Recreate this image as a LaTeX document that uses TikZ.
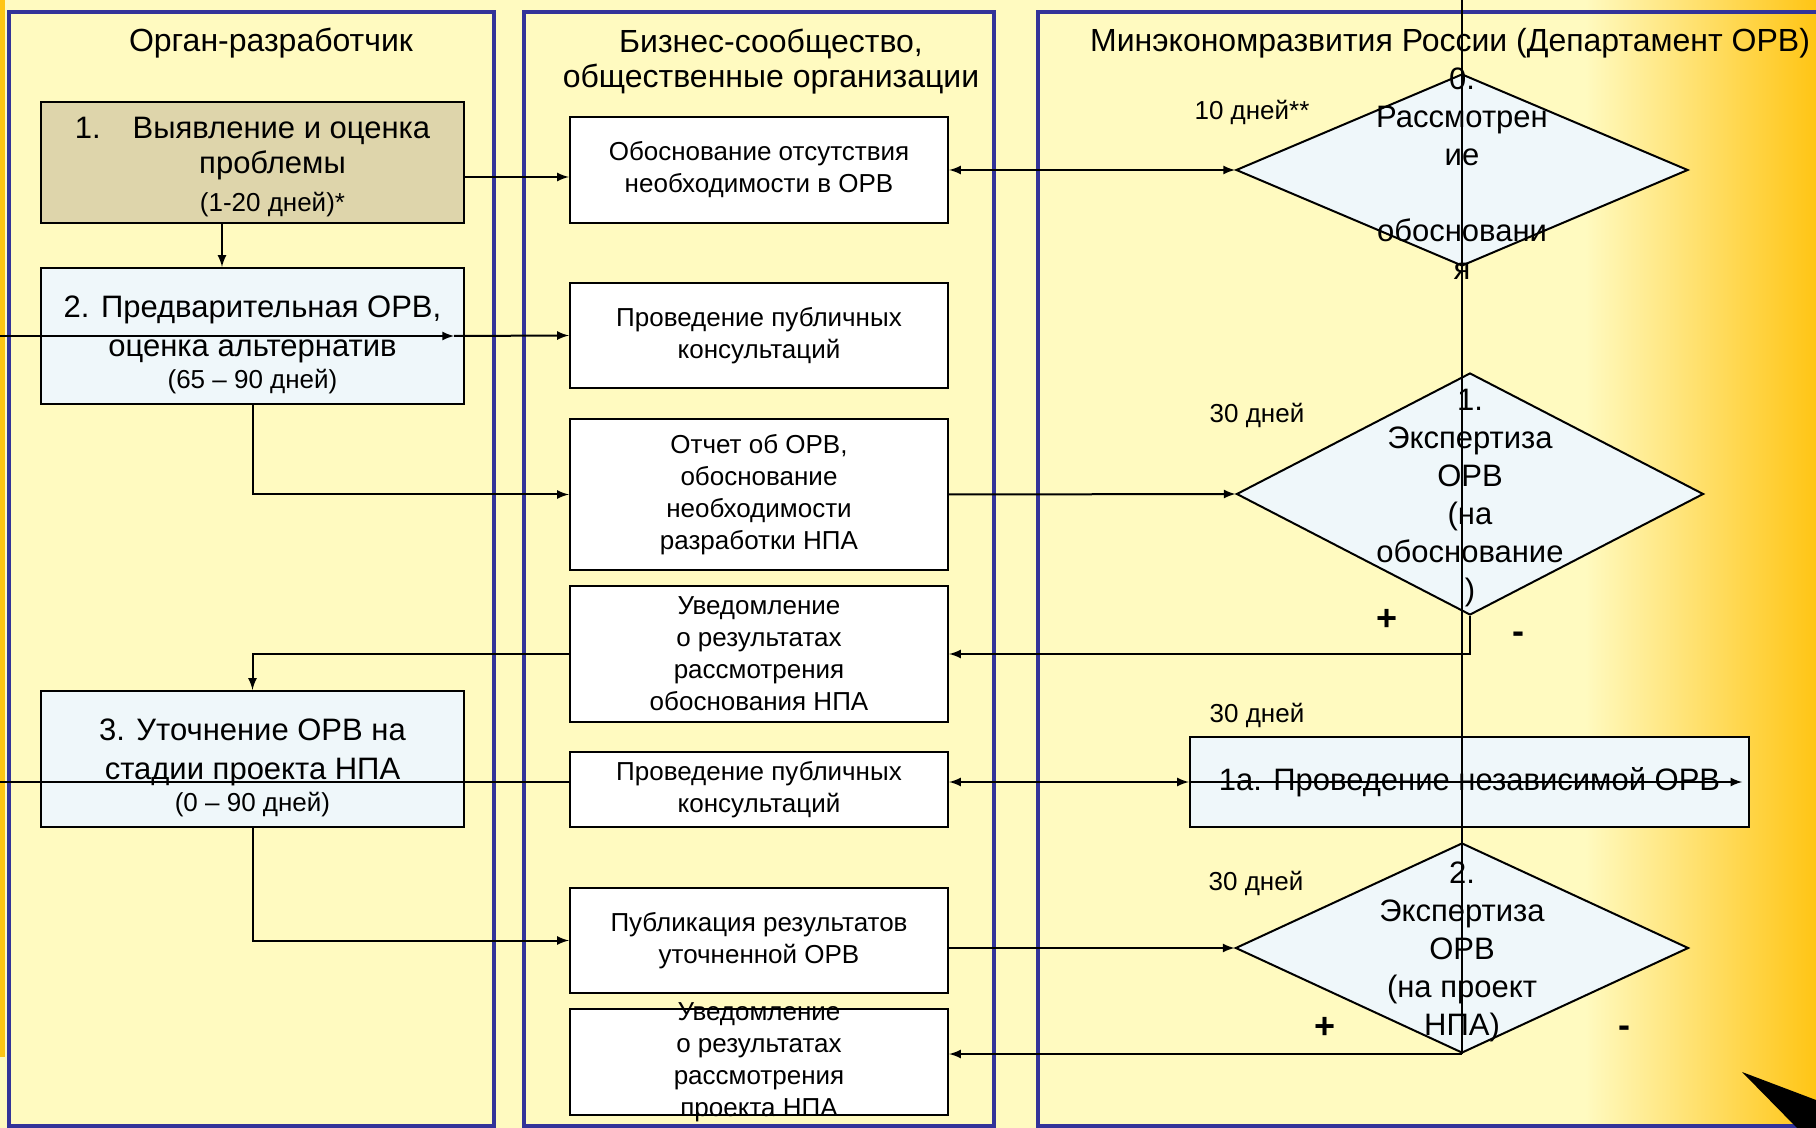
\documentclass[tikz,border=0pt]{standalone}
\usepackage{fontspec}
\setmainfont{Liberation Sans}
\usetikzlibrary{shapes,arrows}
\definecolor{lanebg}{HTML}{FFFAC0}
\definecolor{laneline}{HTML}{333399}
\definecolor{orggold}{HTML}{FFC515}
\definecolor{tanfill}{HTML}{DED5AB}
\definecolor{iceblue}{HTML}{EFF7FA}
\newcommand{\dur}[1]{{\fontsize{13}{16}\selectfont #1}}

\begin{document}
\begin{tikzpicture}[x=0.5pt,y=-0.5pt,>=latex,
  lanebox/.style={draw=laneline,line width=2pt},
  lanetitle/.style={font=\fontsize{16}{17.5}\selectfont,align=center},
  stagebox/.style={draw,line width=1.2pt,fill=iceblue,minimum width=211.5pt,minimum height=68pt,align=center,inner sep=2pt,font=\fontsize{15.5}{19.5}\selectfont},
  pubbox/.style={draw,line width=1.2pt,fill=white,minimum width=189pt,align=center,inner sep=2pt,font=\fontsize{13}{16}\selectfont},
  exam/.style={diamond,draw,line width=1pt,fill=iceblue,inner sep=0pt},
  examtext/.style={align=center,font=\fontsize{15.5}{19}\selectfont},
  days/.style={font=\fontsize{13}{16}\selectfont},
  verdict/.style={font=\fontsize{18}{18}\bfseries\selectfont},
  flow/.style={->,line width=1pt}]
\useasboundingbox (0,0) rectangle (1816,1128);
\fill[lanebg] (0,0) rectangle (1816,1128);
\shade[left color=lanebg,right color=orggold] (1585,0) rectangle (1816,1128);
\fill[orggold] (0,0) rectangle (5,1057);
\draw[lanebox] (9,12) rectangle (494,1126);
\draw[lanebox] (524,12) rectangle (994,1126);
\draw[lanebox] (1830,12) -- (1038,12) -- (1038,1126) -- (1830,1126);

\node[lanetitle] (t1) at (271,43) {Орган-разработчик};
\node[lanetitle] (t2) at (771,62) {Бизнес-сообщество,\\общественные организации};
\node[lanetitle] (t3) at (1450,43) {Минэкономразвития России (Департамент ОРВ)};

\node[stagebox,fill=tanfill,minimum height=60.5pt] (s1) at (252.5,162.5) {\rule{0pt}{15pt}1.\hspace{16pt}Выявление и оценка\\[-2pt]\hspace*{20pt}проблемы\\[-0.5pt]\hspace*{20pt}\dur{(1-20 дней)*}};
\node[stagebox] (s2) at (252.5,336) {\rule{0pt}{19.5pt}2. Предварительная ОРВ,\\оценка альтернатив\\[-3.5pt]\dur{(65 – 90 дней)}};
\node[stagebox] (s3) at (252.5,759) {\rule{0pt}{19.5pt}3. Уточнение ОРВ на\\стадии проекта НПА\\[-3.5pt]\dur{(0 – 90 дней)}};

\node[pubbox,minimum height=53pt] (a) at (759,170) {Обоснование отсутствия\\необходимости в ОРВ};
\node[pubbox,minimum height=52.5pt] (b) at (759,335.5) {Проведение публичных\\консультаций};
\node[pubbox,minimum height=75.5pt] (c) at (759,494.5) {Отчет об ОРВ,\\обоснование\\необходимости\\разработки НПА};
\node[pubbox,minimum height=68pt] (d) at (759,654) {Уведомление\\о результатах\\рассмотрения\\обоснования НПА};
\node[pubbox,minimum height=37.5pt] (e) at (759,789.5) {Проведение публичных\\консультаций};
\node[pubbox,minimum height=52.5pt] (f) at (759,940.5) {Публикация результатов\\уточненной ОРВ};
\node[pubbox,minimum height=53pt] (g) at (759,1062) {};
\node[align=center,font=\fontsize{13}{16}\selectfont] (gt) at (g) {Уведомление\\о результатах\\рассмотрения\\проекта НПА};

\node[exam,minimum width=226pt,minimum height=96pt] (d0) at (1462,170) {};
\node[examtext] (d0t) at (1462,174) {0.\\Рассмотрен\\ие\\\mbox{}\\обосновани\\я};
\node[exam,minimum width=233.5pt,minimum height=121pt] (d1) at (1470,494) {};
\node[examtext] (d1t) at (1470,498) {1.\\Экспертиза\\ОРВ\\(на\\обоснование\\)};
\node[stagebox,minimum width=279.5pt,minimum height=45pt] (ia) at (1469.5,782) {1а. Проведение независимой ОРВ};
\node[exam,minimum width=226.5pt,minimum height=105pt] (d2) at (1462,948) {};
\node[examtext] (d2t) at (1462,952) {2.\\Экспертиза\\ОРВ\\(на проект\\НПА)};

\node[days] (l0) at (1252,112) {10 дней**};
\node[days] (l1) at (1257,415) {30 дней};
\node[days] (l1a) at (1257,715) {30 дней};
\node[days] (l2) at (1256,883) {30 дней};
\node[verdict] (p1) at (1387,620) {+};
\node[verdict] (m1) at (1518,638) {-};
\node[verdict] (p2) at (1325,1028) {+};
\node[verdict] (m2) at (1624,1032) {-};

\coordinate (top) at (1462,0);
\coordinate (in2) at (0,336);
\coordinate (tip2) at (454,336);
\coordinate (in3) at (0,782);
\fill (1742,1072) -- (1816,1100) -- (1816,1128) -- (1797,1128) -- cycle;

\draw[line width=0.7pt] (top) -- (d2.south);
\draw[flow] ([xshift=-15.25pt]s1.south) -- ([xshift=-15.25pt]s2.north);
\draw[flow] ([yshift=-7.25pt]s1.east) -- ([yshift=-7.25pt]s1.east -| a.west);
\draw[flow,<->] (a.east) -- (d0.west);
\draw[flow] (in2) -- (tip2);
\draw[flow] (tip2) -- (b.west);
\draw[flow] (s2.south) |- (c.west);
\draw[flow] (c.east) -- (d1.west);
\draw[flow] (d1.south) |- (d.east);
\draw[flow] (d.west) -| (s3.north);
\draw[line width=1pt] (in3) -- (in3 -| e.west);
\draw[flow,<->] (in3 -| e.east) -- (ia.west);
\draw[flow] (ia.west) -- ([xshift=-4pt]ia.east);
\draw[flow] (s3.south) |- (f.west);
\draw[flow] (f.east |- d2.west) -- (d2.west);
\draw[flow] (d2.south) -- (d2.south -| g.east);
\end{tikzpicture}
\end{document}
